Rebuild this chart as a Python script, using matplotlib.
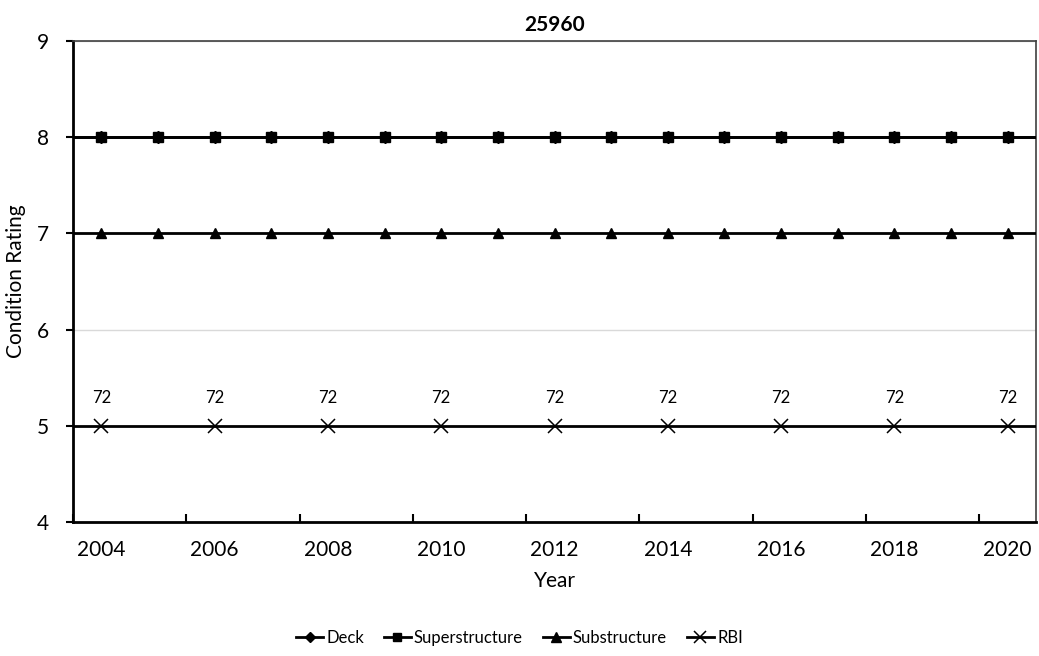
import numpy as np
import matplotlib
matplotlib.use("Agg")
import matplotlib.pyplot as plt
from matplotlib.lines import Line2D

# data
years = list(range(2004, 2021))
deck = [8] * 17
superstructure = [8] * 17
substructure = [7] * 17
rbi_years = list(range(2004, 2021, 2))
rbi_pos = [5] * 9
rbi_labels = [72] * 9
tick_years = list(range(2004, 2021, 2))

plt.rcParams.update({
    "font.family": ["Lato", "DejaVu Sans"],
    "font.size": 15,
})

fig = plt.figure(figsize=(10.39, 6.56), dpi=100)
ax = fig.add_axes([73 / 1039, 1 - 522 / 656, (1036 - 73) / 1039, (522 - 41) / 656])

x_lo, x_hi = years[0] - 0.5, years[-1] + 0.5


def padded(xs, ys):
    # Excel draws the series across the half-category margins as well
    return [x_lo] + list(xs) + [x_hi], [ys[0]] + list(ys) + [ys[-1]]


lw = 2.0
ax.plot(*padded(years, deck), color='black', lw=lw, zorder=3)
ax.plot(years, deck, ls='none', marker='D', ms=6, color='black', zorder=4)
ax.plot(*padded(years, superstructure), color='black', lw=lw, zorder=3)
ax.plot(years, superstructure, ls='none', marker='s', ms=6.5, color='black', zorder=5)
ax.plot(*padded(years, substructure), color='black', lw=lw, zorder=3)
ax.plot(years, substructure, ls='none', marker='^', ms=7, color='black', zorder=5)
ax.plot(*padded(rbi_years, rbi_pos), color='black', lw=lw, zorder=3)
ax.plot(rbi_years, rbi_pos, ls='none', marker='x', ms=10, mew=1.1,
        color='black', zorder=5)
for xr, yr, lab in zip(rbi_years, rbi_pos, rbi_labels):
    ax.annotate(str(lab), (xr, yr), xytext=(0, 14), textcoords='offset points',
                ha='center', va='bottom', fontsize=12)

ax.set_xlim(x_lo, x_hi)
ax.set_ylim(4, 9)
ax.set_yticks(range(4, 10))
ax.set_xticks(tick_years)
ax.set_xticklabels([str(y) for y in tick_years])
ax.set_xticks(np.arange(x_lo, x_hi + 0.1, 2), minor=True)
ax.tick_params(axis='x', which='major', length=0, pad=13)
ax.tick_params(axis='x', which='minor', direction='in', length=6, width=1.5)
ax.tick_params(axis='y', direction='out', length=5, width=1.5, pad=12)
ax.yaxis.grid(True, color='#d9d9d9', lw=1.0, zorder=0)
ax.set_axisbelow(True)

for s in ['left', 'bottom']:
    ax.spines[s].set_linewidth(2.0)
    ax.spines[s].set_color('black')
for s in ['top', 'right']:
    ax.spines[s].set_linewidth(1.2)
    ax.spines[s].set_color('#404040')

ax.set_title('25960', fontweight='bold', fontsize=15, pad=7)
ax.set_xlabel('Year', labelpad=8)
ax.set_ylabel('Condition Rating', labelpad=8)

handles = [
    Line2D([0], [0], color='black', lw=lw, marker='D', ms=5.5),
    Line2D([0], [0], color='black', lw=lw, marker='s', ms=6),
    Line2D([0], [0], color='black', lw=lw, marker='^', ms=6.5),
    Line2D([0], [0], color='black', lw=lw, marker='x', ms=9, mew=1.1),
]
fig.legend(handles, ['Deck', 'Superstructure', 'Substructure', 'RBI'],
           loc='center', bbox_to_anchor=(0.5, 1 - 638 / 656), ncol=4,
           frameon=False, fontsize=12, handlelength=1.6, handletextpad=0.2,
           columnspacing=1.2)

fig.savefig('out.png', dpi=100)
